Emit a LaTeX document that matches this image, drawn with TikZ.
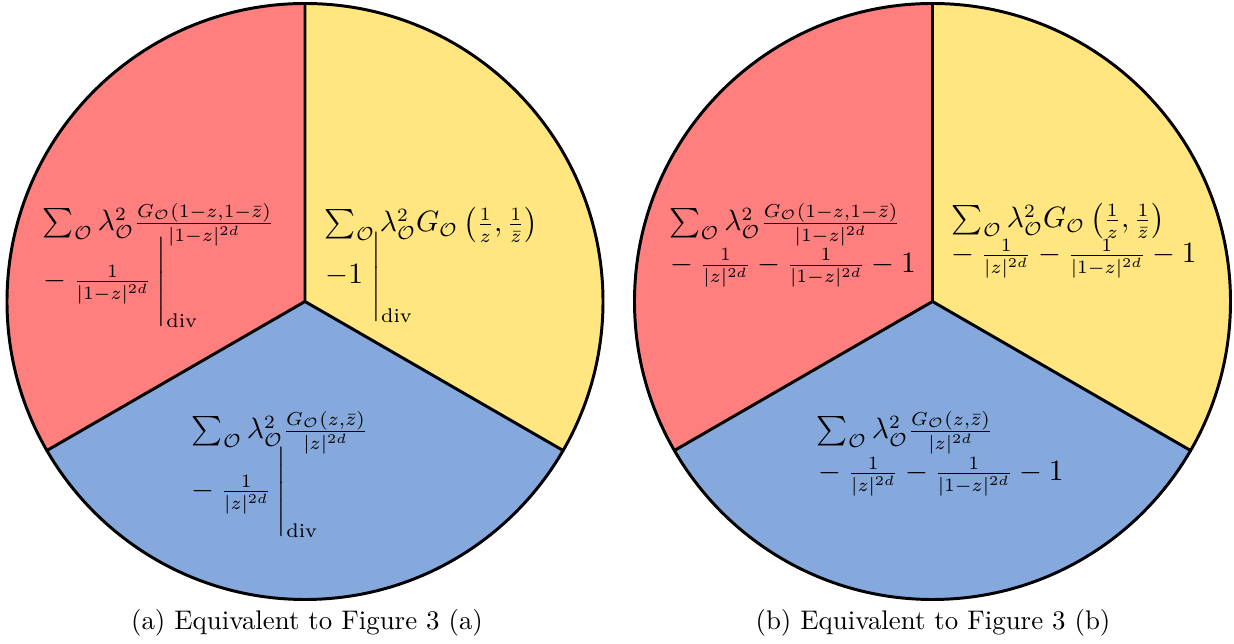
\documentclass[tikz,border=0pt]{standalone}
\usepackage{amsmath}
\usepackage{tikz}
\usetikzlibrary{positioning}
\definecolor{sectred}{HTML}{FF7F7F}
\definecolor{sectyellow}{HTML}{FFE680}
\definecolor{sectblue}{HTML}{85A8DD}
\newcommand{\Op}{\mathcal{O}}

\begin{document}
\begin{tikzpicture}[x=0.372pt, y=0.372pt,
    every node/.style={inner sep=0pt, anchor=base west},
    lbl/.style={font=\fontsize{10.5}{12.6}\selectfont},
    rim/.style={draw=black, line width=1.1pt, line cap=round}]
        \useasboundingbox (0,0) rectangle (1234,644);
        \coordinate (ca) at (305,342.5);
        \coordinate (cb) at (932.5,342.5);
        % (a) sectors
        \fill[sectred] (ca) -- ++(90:298) arc[start angle=90, end angle=210, radius=298] -- cycle;
        \fill[sectblue] (ca) -- ++(210:298) arc[start angle=210, end angle=330, radius=298] -- cycle;
        \fill[sectyellow] (ca) -- ++(330:298) arc[start angle=330, end angle=450, radius=298] -- cycle;
        \draw[rim] (ca) circle[radius=298];
        \draw[rim] (ca) -- ++(90:298) (ca) -- ++(210:298) (ca) -- ++(330:298);
        % (b) sectors
        \fill[sectred] (cb) -- ++(90:298) arc[start angle=90, end angle=210, radius=298] -- cycle;
        \fill[sectblue] (cb) -- ++(210:298) arc[start angle=210, end angle=330, radius=298] -- cycle;
        \fill[sectyellow] (cb) -- ++(330:298) arc[start angle=330, end angle=450, radius=298] -- cycle;
        \draw[rim] (cb) circle[radius=298];
        \draw[rim] (cb) -- ++(90:298) (cb) -- ++(210:298) (cb) -- ++(330:298);
        % (a) labels
        \node[lbl] (ared1) at (42.4,413) {$\sum_{\Op}\lambda^2_{\Op}\frac{G_{\Op}(1-z,1-\bar z)}{|1-z|^{2d}}$};
        \node[lbl] (ared2) at (36.9,355) {${}-\frac{1}{|1-z|^{2d}}\,\Bigg|_{\text{div}}$};
        \node[lbl] (ayel1) at (324.4,412) {$\sum_{\Op}\lambda^2_{\Op}G_{\Op}\left(\frac{1}{z},\frac{1}{\bar z}\right)$};
        \node[lbl] (ayel2) at (324.9,360) {$-1\;\Bigg|_{\text{div}}$};
        \node[lbl] (ablu1) at (191.4,205) {$\sum_{\Op}\lambda^2_{\Op}\frac{G_{\Op}(z,\bar z)}{|z|^{2d}}$};
        \node[lbl] (ablu2) at (184.4,145) {${}-\frac{1}{|z|^{2d}}\,\Bigg|_{\text{div}}$};
        % (b) labels
        \node[lbl] (bred1) at (668.9,413) {$\sum_{\Op}\lambda^2_{\Op}\frac{G_{\Op}(1-z,1-\bar z)}{|1-z|^{2d}}$};
        \node[lbl] (bred2) at (663.7,371.5) {${}-\frac{1}{|z|^{2d}}-\frac{1}{|1-z|^{2d}}-1$};
        \node[lbl] (byel1) at (951.4,416) {$\sum_{\Op}\lambda^2_{\Op}G_{\Op}\left(\frac{1}{z},\frac{1}{\bar z}\right)$};
        \node[lbl] (byel2) at (944.4,381) {${}-\frac{1}{|z|^{2d}}-\frac{1}{|1-z|^{2d}}-1$};
        \node[lbl] (bblu1) at (816.4,205) {$\sum_{\Op}\lambda^2_{\Op}\frac{G_{\Op}(z,\bar z)}{|z|^{2d}}$};
        \node[lbl] (bblu2) at (811.4,163) {${}-\frac{1}{|z|^{2d}}-\frac{1}{|1-z|^{2d}}-1$};
        % captions
        \node[anchor=base] (capa) at (307,14) {(a) Equivalent to Figure 3 (a)};
        \node[anchor=base] (capb) at (933,14) {(b) Equivalent to Figure 3 (b)};
      \end{tikzpicture}
\end{document}
